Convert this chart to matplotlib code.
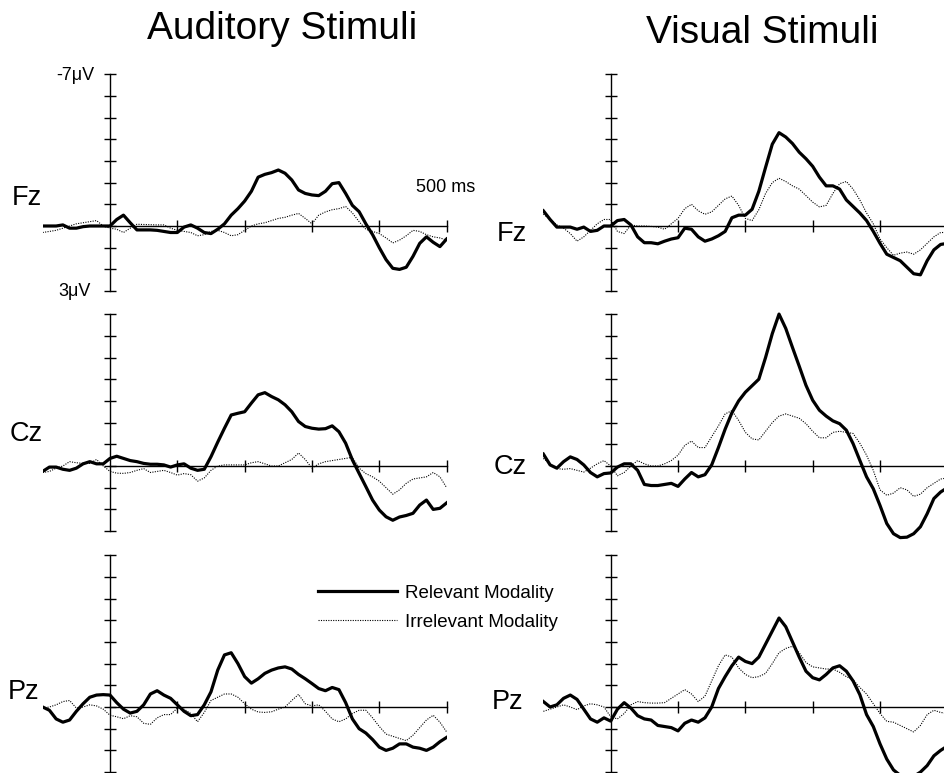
import matplotlib
matplotlib.use("Agg")
import matplotlib.pyplot as plt

plt.rcParams['font.family'] = ['Liberation Sans', 'DejaVu Sans']

# ---------------- data (µV, negative plotted upward) ----------------
time_ms = list(range(-100, 501, 10))

aud_fz_rel = [0.0, 0.0, 0.0, -0.05, 0.1, 0.1, 0.03, 0.0, 0.0, 0.0,
              0.0, -0.3, -0.5, -0.15, 0.18, 0.18, 0.18, 0.2, 0.25, 0.3,
              0.3, 0.05, -0.05, 0.1, 0.3, 0.35, 0.15, -0.1, -0.5, -0.8,
              -1.15, -1.6, -2.25, -2.38, -2.46, -2.58, -2.43, -2.12, -1.66, -1.5,
              -1.43, -1.4, -1.6, -1.95, -2.0, -1.5, -0.95, -0.66, -0.1, 0.4,
              1.0, 1.55, 1.95, 2.0, 1.9, 1.4, 0.8, 0.5, 0.75, 0.95,
              0.6]
aud_fz_irr = [0.3, 0.25, 0.2, 0.1, 0.0, -0.1, -0.15, -0.2, -0.25, 0.0,
              0.1, 0.15, 0.3, 0.1, -0.08, -0.07, -0.06, -0.05, -0.05, 0.1,
              0.2, 0.25, 0.3, 0.45, 0.4, 0.25, 0.2, 0.3, 0.45, 0.4,
              0.2, 0.0, -0.1, -0.15, -0.25, -0.35, -0.4, -0.5, -0.58, -0.35,
              -0.1, -0.5, -0.65, -0.75, -0.8, -0.9, -0.6, -0.2, 0.15, 0.25,
              0.35, 0.55, 0.78, 0.65, 0.45, 0.2, 0.25, 0.4, 0.5, 0.55,
              0.65]
vis_fz_rel = [-0.7, -0.3, 0.05, 0.05, 0.05, 0.15, 0.05, 0.25, 0.2, 0.0,
              0.0, -0.25, -0.3, -0.05, 0.5, 0.77, 0.77, 0.82, 0.7, 0.6,
              0.54, 0.1, 0.15, 0.5, 0.7, 0.6, 0.45, 0.25, -0.38, -0.5,
              -0.5, -0.77, -1.6, -2.7, -3.77, -4.3, -4.1, -3.8, -3.4, -3.1,
              -2.75, -2.25, -1.85, -1.85, -1.7, -1.2, -0.9, -0.6, -0.25, 0.25,
              0.8, 1.3, 1.45, 1.6, 1.9, 2.2, 2.25, 1.6, 1.1, 0.85,
              0.8]
vis_fz_irr = [-0.55, -0.3, -0.05, 0.1, 0.35, 0.7, 0.5, 0.2, -0.1, -0.3,
              -0.3, 0.25, 0.35, -0.05, 0.0, 0.0, 0.02, 0.05, 0.15, -0.1,
              -0.35, -0.8, -1.0, -0.7, -0.54, -0.65, -0.95, -1.25, -1.38, -0.95,
              -0.35, -0.25, -0.75, -1.5, -2.0, -2.2, -2.05, -1.85, -1.7, -1.4,
              -1.1, -0.88, -0.95, -1.5, -1.95, -2.05, -1.7, -1.2, -0.6, -0.1,
              0.6, 1.0, 1.35, 1.25, 1.2, 1.3, 1.1, 0.8, 0.5, 0.3,
              0.3]

aud_cz_rel = [0.25, 0.05, 0.05, 0.15, 0.2, 0.1, -0.1, -0.2, -0.1, -0.1,
              -0.35, -0.45, -0.35, -0.25, -0.2, -0.12, -0.08, -0.08, -0.05, 0.05,
              -0.05, -0.1, 0.1, 0.2, 0.15, -0.43, -1.1, -1.74, -2.35, -2.43,
              -2.5, -2.9, -3.28, -3.38, -3.2, -3.05, -2.82, -2.5, -2.05, -1.82,
              -1.74, -1.7, -1.72, -1.85, -1.58, -1.05, -0.28, 0.34, 0.95, 1.57,
              2.03, 2.34, 2.5, 2.35, 2.28, 2.18, 1.8, 1.57, 2.0, 1.95,
              1.7]
aud_cz_irr = [0.3, 0.25, 0.1, 0.0, -0.2, -0.15, -0.12, -0.12, -0.3, 0.0,
              0.25, 0.33, 0.34, 0.3, 0.2, 0.12, 0.3, 0.25, 0.2, 0.3,
              0.42, 0.35, 0.4, 0.7, 0.55, 0.2, 0.0, -0.05, -0.05, -0.05,
              -0.05, -0.15, -0.2, -0.1, 0.0, 0.0, -0.15, -0.3, -0.6, -0.3,
              0.1, -0.1, -0.2, -0.25, -0.3, -0.35, -0.4, 0.1, 0.35, 0.5,
              0.7, 1.0, 1.3, 1.1, 0.8, 0.6, 0.55, 0.5, 0.3, 0.5,
              1.0]
vis_cz_rel = [-0.55, -0.05, 0.1, -0.2, -0.42, -0.3, -0.05, 0.3, 0.5, 0.35,
              0.32, 0.05, -0.1, -0.1, 0.2, 0.85, 0.9, 0.9, 0.85, 0.8,
              0.94, 0.6, 0.3, 0.5, 0.4, -0.05, -0.85, -1.7, -2.45, -3.0,
              -3.4, -3.7, -4.0, -5.0, -6.1, -7.0, -6.34, -5.46, -4.6, -3.72,
              -3.03, -2.57, -2.3, -2.08, -1.95, -1.65, -1.03, -0.26, 0.5, 1.05,
              1.82, 2.65, 3.12, 3.3, 3.28, 3.12, 2.8, 2.2, 1.5, 1.2,
              1.0]
vis_cz_irr = [-0.35, -0.1, 0.12, 0.15, 0.12, 0.2, 0.28, 0.1, -0.1, -0.25,
              0.0, 0.45, 0.3, 0.0, -0.25, -0.1, 0.0, 0.0, -0.1, -0.25,
              -0.5, -0.95, -1.15, -0.85, -0.85, -1.35, -1.85, -2.4, -2.55, -2.1,
              -1.55, -1.25, -1.2, -1.6, -2.0, -2.3, -2.4, -2.3, -2.2, -1.95,
              -1.6, -1.3, -1.3, -1.55, -1.6, -1.55, -1.5, -1.05, -0.5, 0.2,
              1.1, 1.35, 1.25, 1.0, 1.1, 1.4, 1.3, 1.0, 0.8, 0.6,
              0.55]

aud_pz_rel = [0.0, 0.15, 0.55, 0.7, 0.6, 0.2, -0.15, -0.45, -0.55, -0.57,
              -0.55, -0.2, 0.1, 0.28, 0.2, -0.1, -0.6, -0.75, -0.55, -0.4,
              -0.1, 0.2, 0.4, 0.35, -0.1, -0.7, -1.7, -2.4, -2.5, -2.0,
              -1.4, -1.1, -1.3, -1.55, -1.7, -1.8, -1.85, -1.75, -1.5, -1.3,
              -1.08, -0.85, -0.75, -0.9, -0.8, -0.2, 0.55, 1.0, 1.2, 1.5,
              1.85, 2.0, 1.9, 1.7, 1.7, 1.85, 1.9, 2.0, 1.85, 1.6,
              1.4]
aud_pz_irr = [0.05, 0.0, -0.1, -0.25, -0.3, 0.05, 0.0, -0.1, -0.05, 0.1,
              0.38, 0.45, 0.54, 0.4, 0.45, 0.75, 0.8, 0.5, 0.35, 0.35,
              0.05, 0.1, 0.3, 0.68, 0.25, -0.3, -0.45, -0.6, -0.6, -0.45,
              -0.15, 0.1, 0.23, 0.25, 0.22, 0.1, 0.0, -0.3, -0.58, -0.15,
              -0.05, -0.1, 0.2, 0.55, 0.68, 0.55, 0.3, 0.15, 0.15, 0.5,
              0.9, 1.25, 1.35, 1.45, 1.55, 1.3, 0.95, 0.6, 0.38, 0.7,
              1.15]
vis_pz_rel = [-0.25, 0.0, -0.1, -0.4, -0.55, -0.35, 0.1, 0.55, 0.7, 0.5,
              0.65, 0.1, -0.2, 0.05, 0.4, 0.55, 0.6, 0.85, 0.9, 0.95,
              1.1, 0.75, 0.6, 0.7, 0.5, 0.0, -0.85, -1.4, -1.9, -2.3,
              -2.1, -2.0, -2.3, -2.9, -3.5, -4.1, -3.7, -3.0, -2.3, -1.65,
              -1.35, -1.25, -1.5, -1.8, -1.9, -1.65, -1.2, -0.57, 0.35, 0.9,
              1.7, 2.4, 2.9, 3.15, 3.25, 3.2, 3.0, 2.7, 2.25, 2.0,
              1.8]
vis_pz_irr = [0.2, 0.1, 0.0, -0.1, 0.0, 0.12, -0.05, -0.15, -0.1, 0.0,
              0.45, 0.55, 0.3, -0.1, -0.25, -0.2, -0.18, -0.18, -0.2, -0.4,
              -0.6, -0.8, -0.6, -0.25, -0.5, -1.2, -1.9, -2.4, -2.3, -1.8,
              -1.5, -1.35, -1.4, -1.55, -2.0, -2.5, -2.7, -2.8, -2.5, -2.05,
              -1.85, -1.8, -1.75, -1.75, -1.6, -1.4, -1.25, -0.9, -0.6, -0.15,
              0.3, 0.66, 0.7, 0.85, 1.0, 1.15, 0.85, 0.35, 0.15, 0.25,
              0.3]

electrodes = ["Fz", "Cz", "Pz"]
column_titles = ["Auditory Stimuli", "Visual Stimuli"]
legend_labels = ["Relevant Modality", "Irrelevant Modality"]
y_ticks_uv = list(range(-7, 4))
x_ticks_ms = [100, 200, 300, 400, 500]

panels = {
    (0, 0): (aud_fz_rel, aud_fz_irr), (0, 1): (vis_fz_rel, vis_fz_irr),
    (1, 0): (aud_cz_rel, aud_cz_irr), (1, 1): (vis_cz_rel, vis_cz_irr),
    (2, 0): (aud_pz_rel, aud_pz_irr), (2, 1): (vis_pz_rel, vis_pz_irr),
}

# ---------------- layout (pixels) ----------------
W, H = 944, 773
fig = plt.figure(figsize=(W / 100, H / 100), dpi=100)
fig.patch.set_facecolor("white")

PX_PER_MS = 0.6733
PX_PER_UV = 21.7
Y_TOP, Y_BOT = -7.6, 3.6
axis_x_px = [110.0, 610.7]
zero_y_px = [226.0, 466.0, 707.0]

axes = {}
for (r, c), (rel, irr) in panels.items():
    x0 = axis_x_px[c] - 100 * PX_PER_MS
    wpx = 600 * PX_PER_MS
    top = zero_y_px[r] + Y_TOP * PX_PER_UV
    bot = zero_y_px[r] + Y_BOT * PX_PER_UV
    ax = fig.add_axes([x0 / W, 1 - bot / H, wpx / W, (bot - top) / H])
    ax.set_xlim(-100, 500)
    ax.set_ylim(Y_BOT, Y_TOP)
    ax.patch.set_alpha(0)
    for s in ("top", "right"):
        ax.spines[s].set_visible(False)
    ax.spines["left"].set_position(("data", 0))
    ax.spines["left"].set_bounds(-7, 3)
    ax.spines["bottom"].set_position(("data", 0))
    ax.spines["bottom"].set_bounds(0, 500)
    for s in ("left", "bottom"):
        ax.spines[s].set_linewidth(1.0)
        ax.spines[s].set_color("black")
    ax.set_yticks(y_ticks_uv)
    ax.set_xticks(x_ticks_ms)
    ax.tick_params(direction="inout", length=8, width=1.0, colors="black",
                   labelleft=False, labelbottom=False)
    l1, = ax.plot(time_ms, rel, color="black", lw=2.3, solid_joinstyle="round")
    l2, = ax.plot(time_ms, irr, color="black", lw=0.8, linestyle=(0, (1, 1.2)))
    axes[(r, c)] = ax
    if (r, c) == (2, 0):
        handles = [l1, l2]

# ---------------- text ----------------
def ftext(x, y, s, **kw):
    fig.text(x / W, 1 - y / H, s, **kw)

ftext(282, 29, column_titles[0], fontsize=28, ha="center", va="center")
ftext(762, 33, column_titles[1], fontsize=28, ha="center", va="center")

lab_pos = {(0, 0): (12, 198), (1, 0): (10, 434), (2, 0): (8, 692),
           (0, 1): (497, 234), (1, 1): (494, 467), (2, 1): (492, 702)}
for (r, c), (x, y) in lab_pos.items():
    ftext(x, y, electrodes[r], fontsize=19.5, ha="left", va="center")

ftext(94, 75, "-7\u03bcV", fontsize=13, ha="right", va="center")
ftext(91, 292, "3\u03bcV", fontsize=13, ha="right", va="center")
ftext(416, 188, "500 ms", fontsize=13, ha="left", va="center")

fig.legend(handles, legend_labels, loc="center left",
           bbox_to_anchor=(318 / W, 1 - 607.5 / H), frameon=False,
           fontsize=13.5, handlelength=4.2, handletextpad=0.43,
           labelspacing=0.64, borderpad=0, borderaxespad=0)

fig.savefig("out.png", dpi=100)
